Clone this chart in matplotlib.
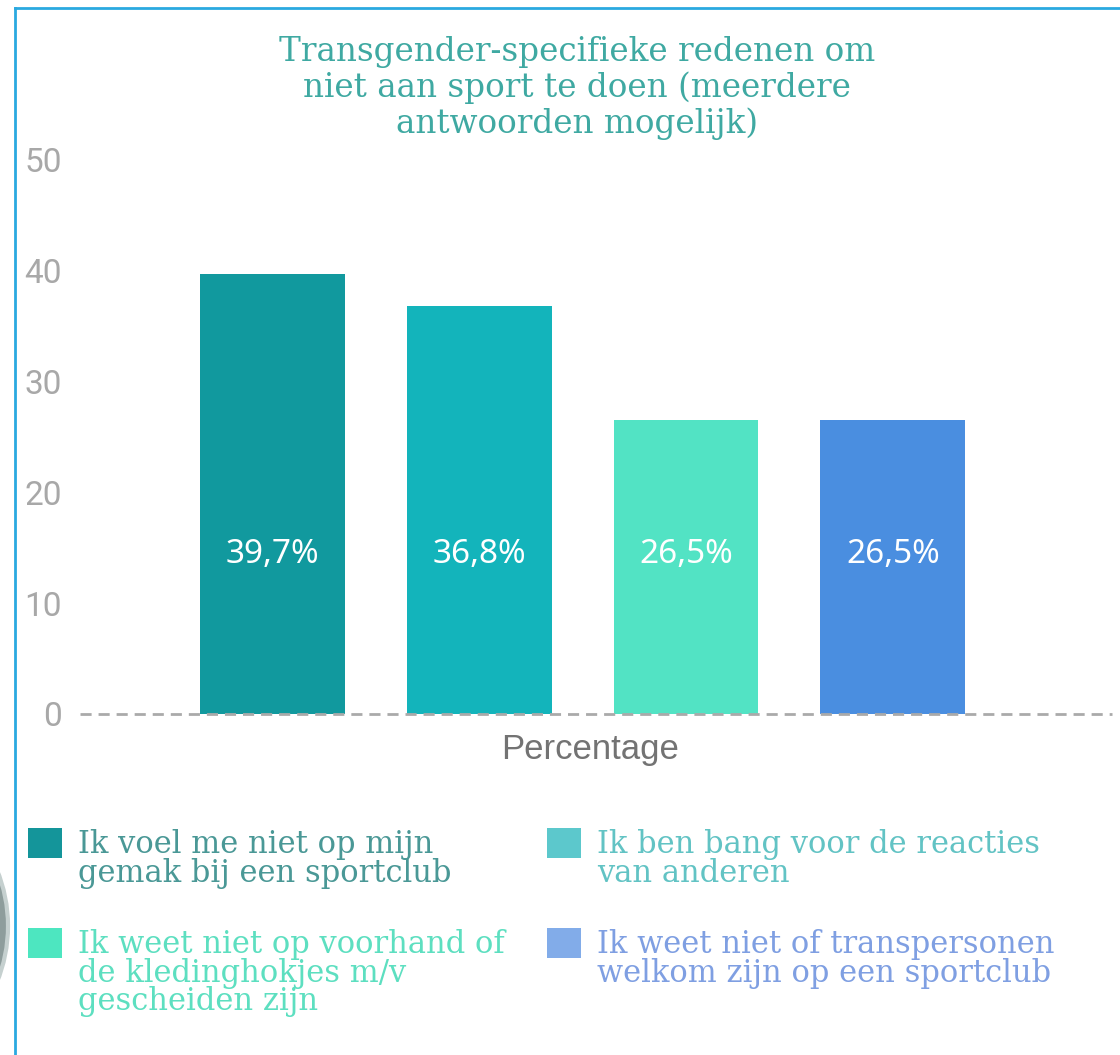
import matplotlib
matplotlib.use("Agg")
import matplotlib.pyplot as plt
from matplotlib.patches import Rectangle, Ellipse
from matplotlib.lines import Line2D

# ---- data ----
title = "Transgender-specifieke redenen om\nniet aan sport te doen (meerdere\nantwoorden mogelijk)"
categories = [
    "Ik voel me niet op mijn\ngemak bij een sportclub",
    "Ik ben bang voor de reacties\nvan anderen",
    "Ik weet niet op voorhand of\nde kledinghokjes m/v\ngescheiden zijn",
    "Ik weet niet of transpersonen\nwelkom zijn op een sportclub",
]
values = [39.7, 36.8, 26.5, 26.5]
value_labels = ["39,7%", "36,8%", "26,5%", "26,5%"]
y_ticks = [0, 10, 20, 30, 40, 50]
x_label = "Percentage"

bar_colors = ["#11999e", "#13b4bb", "#52e3c4", "#4a8ee0"]
legend_box_colors = ["#14959a", "#5cc8cc", "#4de6c0", "#82ace9"]
legend_text_colors = ["#4a9896", "#62c3c4", "#5ddfc0", "#7f9fe2"]

W, H = 1120, 1055
fig = plt.figure(figsize=(W / 100, H / 100), dpi=100)

def fx(px):
    return px / W

def fy(py):
    return 1 - py / H

# frame decoration
fig.add_artist(Line2D([fx(15), 1], [fy(8), fy(8)], color="#2aa9e0", lw=2))
fig.add_artist(Line2D([fx(15), fx(15)], [fy(8), 0], color="#2aa9e0", lw=2))
fig.add_artist(Ellipse((fx(-140), fy(926)), 2 * 148 / W, 2 * 148 / H,
                       transform=fig.transFigure, facecolor="#8e9d9c",
                       edgecolor="#c5d0cf", lw=3, clip_on=False))

ax = fig.add_axes([fx(80), fy(714), fx(1112) - fx(80), fy(160) - fy(714)])
x = list(range(len(values)))
ax.bar(x, values, width=0.70, color=bar_colors, zorder=2)
ax.set_xlim(-0.93, 4.06)
ax.set_ylim(0, 50)
ax.set_yticks(y_ticks)
ax.set_yticklabels([str(t) for t in y_ticks], fontfamily="Roboto",
                   fontsize=24, color="#a8a8a8")
ax.set_xticks([])
ax.tick_params(axis="y", length=0, pad=13)
for s in ax.spines.values():
    s.set_visible(False)
ax.axhline(0, color="#aaaaaa", lw=2, ls=(0, (4, 2.5)), zorder=3, clip_on=False)
ax.set_xlabel(x_label, fontfamily="Liberation Sans", fontsize=25, color="#737373")
ax.xaxis.set_label_coords((590 - 80) / (1112 - 80), -(750 - 714) / (714 - 160))
ax.xaxis.label.set_va("center")

for xi, v, lab in zip(x, values, value_labels):
    ax.text(xi, 14.4, lab, ha="center", va="center", color="white",
            fontfamily="Noto Sans", fontsize=24)

fig.text(fx(577), fy(88), title, ha="center", va="center", color="#3fa9a2",
         fontfamily="DejaVu Serif", fontsize=23.5, linespacing=1.12)

# legend (manual)
col_x = [28, 547]
row_y = [828, 928]
for i, (lab, bc, tc) in enumerate(zip(categories, legend_box_colors, legend_text_colors)):
    c, r = i % 2, i // 2
    bx, by = col_x[c], row_y[r]
    fig.add_artist(Rectangle((fx(bx), fy(by + 30)), 34 / W, 30 / H,
                             transform=fig.transFigure, facecolor=bc, edgecolor="none"))
    fig.text(fx(bx + 50), fy(by + 1), lab, ha="left", va="top", color=tc,
             fontfamily="DejaVu Serif", fontsize=22, linespacing=0.9)

fig.savefig("out.png", dpi=100)
